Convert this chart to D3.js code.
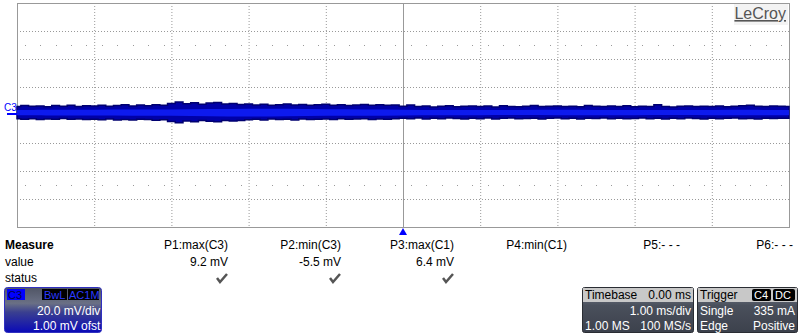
<!DOCTYPE html>
<html lang="en">
<head>
    <meta charset="UTF-8">
    <title>LeCroy C3</title>
    <script src="https://d3js.org/d3.v7.min.js"></script>
    <style>
        body { margin: 0; background: #fff; }
        text { font-family: "Liberation Sans", Arial, sans-serif; }
    </style>
</head>
<body>

    <svg width="800" height="334"></svg>

<script>

    // trace envelope of C3, mV, one value every 0.1 ms from -5 ms to +5 ms
    var upper = [6.0, 6.8, 6.2, 6.5, 5.9, 6.7, 6.3, 6.9, 6.1, 6.6,
                 6.4, 7.0, 6.2, 6.8, 7.3, 6.5, 7.1, 6.6, 7.4, 7.0,
                 8.2, 9.2, 8.0, 8.8, 7.6, 8.5, 9.0, 7.9, 8.3, 7.5,
                 7.8, 7.2, 7.6, 7.0, 7.4, 7.9, 7.1, 7.5, 7.0, 7.3,
                 7.6, 7.0, 7.4, 6.8, 7.2, 7.5, 6.9, 7.3, 7.0, 7.1,
                 6.2, 7.2, 6.0, 6.4, 5.8, 6.3, 6.6, 5.9, 6.2, 6.5,
                 6.0, 6.4, 5.8, 6.6, 6.1, 5.9, 6.3, 6.7, 6.0, 6.2,
                 6.5, 6.1, 6.3, 5.9, 6.8, 6.2, 6.0, 6.4, 6.1, 6.6,
                 5.9, 6.3, 6.0, 7.3, 6.1, 5.8, 6.2, 6.5, 6.0, 6.3,
                 6.1, 6.4, 5.9, 6.2, 6.6, 7.0, 6.3, 6.0, 6.5, 6.2, 6.1];
    var lower = [-2.6, -3.0, -2.7, -3.2, -2.8, -3.1, -2.5, -3.0, -2.9, -3.3,
                 -3.0, -3.4, -2.9, -3.5, -3.2, -3.6, -3.0, -3.3, -3.8, -3.4,
                 -4.6, -5.5, -4.2, -4.9, -4.0, -4.5, -4.8, -3.9, -4.3, -4.0,
                 -3.4, -3.0, -3.6, -2.9, -3.3, -3.1, -3.5, -2.8, -3.2, -3.0,
                 -2.8, -3.2, -2.7, -3.1, -2.9, -2.6, -3.3, -2.8, -3.0, -2.7,
                 -2.3, -2.7, -2.2, -2.9, -2.4, -2.6, -2.1, -2.5, -2.8, -2.3,
                 -2.6, -2.2, -2.8, -2.4, -2.1, -2.7, -2.5, -2.3, -2.9, -2.4,
                 -2.2, -2.6, -2.4, -2.8, -2.3, -2.5, -2.1, -2.7, -2.4, -2.6,
                 -2.5, -2.2, -2.7, -2.4, -2.9, -2.3, -2.6, -2.2, -2.5, -2.8,
                 -2.3, -2.7, -2.4, -2.2, -2.6, -2.5, -2.8, -2.3, -2.5, -2.4, -2.4];
    // bright core of the trace, one value every 0.5 ms
    var coreHi = [3.6, 3.9, 3.7, 4.0, 3.8, 4.2, 4.6, 4.4, 4.1, 4.0, 3.8,
                  3.6, 3.7, 3.5, 3.8, 3.6, 3.7, 3.5, 3.6, 3.7, 3.6];
    var coreLo = [-0.2, -0.4, -0.3, -0.5, -0.4, -0.9, -1.2, -0.8, -0.6, -0.5, -0.3,
                  -0.1, -0.2, 0.0, -0.2, -0.1, -0.2, 0.0, -0.1, -0.2, -0.1];

    var measNames = ['P1:max(C3)', 'P2:min(C3)', 'P3:max(C1)', 'P4:min(C1)', 'P5:- - -', 'P6:- - -'];
    var measValues = ['9.2 mV', '-5.5 mV', '6.4 mV', '', '', ''];
    var measStatus = [true, true, true, false, false, false];

    var svg = d3.select('svg');

    // 10 div x 1 ms, 8 div x 20 mV
    var x = d3.scaleLinear().domain([-5, 5]).range([17, 789]);
    var y = d3.scaleLinear().domain([-80, 80]).range([227, 3]);

    var grid = svg.append('g');
    // dotted major grid
    grid.selectAll('.vx').data(d3.range(-4, 5).filter(function (d) { return d !== 0; }))
        .enter().append('line')
        .attr('x1', function (d) { return x(d) + 0.5; }).attr('x2', function (d) { return x(d) + 0.5; })
        .attr('y1', 3).attr('y2', 227)
        .attr('stroke', '#999').attr('stroke-dasharray', '1,2');
    grid.selectAll('.hy').data(d3.range(-60, 61, 20).filter(function (d) { return d !== 0; }))
        .enter().append('line')
        .attr('y1', function (d) { return Math.round(y(d)) + 0.5; }).attr('y2', function (d) { return Math.round(y(d)) + 0.5; })
        .attr('x1', 17).attr('x2', 789)
        .attr('stroke', '#999').attr('stroke-dasharray', '1,2');
    // minor dots
    var dotX = d3.range(-49, 50, 2).map(function (d) { return d / 10; });
    [50, -50].forEach(function (mv) {
        grid.selectAll(null).data(dotX).enter().append('rect')
            .attr('x', function (d) { return Math.round(x(d)); })
            .attr('y', Math.round(y(mv)))
            .attr('width', 1).attr('height', 1)
            .attr('fill', '#999');
    });
    // center axes and border
    grid.append('line').attr('x1', Math.round(x(0)) + 0.5).attr('x2', Math.round(x(0)) + 0.5)
        .attr('y1', 3).attr('y2', 227).attr('stroke', '#999');
    grid.append('line').attr('y1', y(0) + 0.5).attr('y2', y(0) + 0.5)
        .attr('x1', 17).attr('x2', 789).attr('stroke', '#999');
    grid.append('rect').attr('x', 17.5).attr('y', 3.5).attr('width', 772).attr('height', 224)
        .attr('fill', 'none').attr('stroke', '#999');

    // LeCroy logo
    svg.append('rect').attr('x', 734).attr('y', 4).attr('width', 54).attr('height', 21).attr('fill', '#f3f3f3');
    svg.append('text').attr('x', 786).attr('y', 19).attr('text-anchor', 'end')
        .attr('font-size', 16).attr('fill', '#555').attr('text-decoration', 'underline')
        .text('LeCroy');

    // trace
    var tOuter = upper.map(function (d, i) { return -5 + i * 0.1; });
    var tCore = coreHi.map(function (d, i) { return -5 + i * 0.5; });
    var outer = d3.area().curve(d3.curveStep)
        .x(function (d, i) { return x(tOuter[i]); })
        .y0(function (d, i) { return y(lower[i]); })
        .y1(function (d, i) { return y(upper[i]); });
    var core = d3.area().curve(d3.curveBasis)
        .x(function (d, i) { return x(tCore[i]); })
        .y0(function (d, i) { return y(coreLo[i]); })
        .y1(function (d, i) { return y(coreHi[i]); });
    svg.append('path').datum(upper).attr('d', outer)
        .attr('fill', '#0000a8').attr('stroke', '#000070').attr('stroke-width', 1.5);
    svg.append('path').datum(coreHi).attr('d', core)
        .attr('fill', '#1020ff').attr('opacity', 0.8);

    // channel marker
    svg.append('text').attr('x', 4).attr('y', 111).attr('font-size', 10).attr('fill', '#00f').text('C3');
    svg.append('rect').attr('x', 7).attr('y', y(0) - 2).attr('width', 10).attr('height', 2).attr('fill', '#00f');
    // trigger marker
    svg.append('path')
        .attr('d', 'M' + x(0) + ',228 L' + (x(0) + 4) + ',235 L' + (x(0) - 4) + ',235 Z')
        .attr('fill', '#00f');

    // measure table
    var colX = d3.scalePoint().domain(d3.range(6)).range([228, 793]);
    svg.append('text').attr('x', 5).attr('y', 249).attr('font-size', 12).attr('font-weight', 'bold').text('Measure');
    svg.append('text').attr('x', 5).attr('y', 266).attr('font-size', 12).text('value');
    svg.append('text').attr('x', 5).attr('y', 282).attr('font-size', 12).text('status');
    var cols = svg.selectAll('.mc').data(d3.range(6)).enter().append('g');
    cols.append('text').attr('x', function (i) { return colX(i); }).attr('y', 249)
        .attr('font-size', 12).attr('text-anchor', 'end').text(function (i) { return measNames[i]; });
    cols.append('text').attr('x', function (i) { return colX(i); }).attr('y', 266)
        .attr('font-size', 12).attr('text-anchor', 'end').text(function (i) { return measValues[i]; });
    cols.filter(function (i) { return measStatus[i]; }).append('path')
        .attr('d', function (i) {
            var cx = colX(i) - 6;
            return 'M' + (cx - 5) + ',278 L' + (cx - 2) + ',282 L' + (cx + 5) + ',274';
        })
        .attr('fill', 'none').attr('stroke', '#555').attr('stroke-width', 2.5);

    var defs = svg.append('defs');
    var gc = defs.append('linearGradient').attr('id', 'chg').attr('x1', 0).attr('y1', 0).attr('x2', 0).attr('y2', 1);
    gc.append('stop').attr('offset', '0').attr('stop-color', '#505565');
    gc.append('stop').attr('offset', '0.35').attr('stop-color', '#6a7085');
    gc.append('stop').attr('offset', '0.55').attr('stop-color', '#3a3f90');
    gc.append('stop').attr('offset', '1').attr('stop-color', '#0a0ab8');
    var gt = defs.append('linearGradient').attr('id', 'tbg').attr('x1', 0).attr('y1', 0).attr('x2', 0).attr('y2', 1);
    gt.append('stop').attr('offset', '0').attr('stop-color', '#7d8494');
    gt.append('stop').attr('offset', '0.4').attr('stop-color', '#4a505c');
    gt.append('stop').attr('offset', '1').attr('stop-color', '#3c414c');

    // channel descriptor
    var ch = svg.append('g');
    ch.append('rect').attr('x', 4.5).attr('y', 287.5).attr('width', 97).attr('height', 45).attr('rx', 3)
        .attr('fill', 'url(#chg)').attr('stroke', '#3030c0');
    ch.append('rect').attr('x', 7).attr('y', 289).attr('width', 18).attr('height', 11).attr('fill', '#0000ff');
    ch.append('text').attr('x', 8).attr('y', 299).attr('font-size', 11).attr('fill', '#000050').text('C3');
    ch.append('rect').attr('x', 42).attr('y', 289).attr('width', 25).attr('height', 11).attr('fill', '#000');
    ch.append('text').attr('x', 44).attr('y', 299).attr('font-size', 11).attr('fill', '#2a3aff').text('BwL');
    ch.append('rect').attr('x', 68).attr('y', 289).attr('width', 31).attr('height', 11).attr('fill', '#000');
    ch.append('text').attr('x', 69).attr('y', 299).attr('font-size', 11).attr('fill', '#2a3aff').text('AC1M');
    ch.append('text').attr('x', 37).attr('y', 315).attr('font-size', 12).attr('fill', '#fff').text('20.0 mV/div');
    ch.append('text').attr('x', 33).attr('y', 330).attr('font-size', 12).attr('fill', '#fff').text('1.00 mV ofst');

    // timebase and trigger
    function infoBox(x0, w, title, rows) {
        var b = svg.append('g');
        b.append('rect').attr('x', x0 + 0.5).attr('y', 287.5).attr('width', w).attr('height', 45).attr('rx', 2)
            .attr('fill', 'url(#tbg)').attr('stroke', '#2a2d33');
        b.append('rect').attr('x', x0 + 1).attr('y', 288).attr('width', w - 1).attr('height', 14).attr('fill', '#c8c8c8');
        b.append('text').attr('x', x0 + 3).attr('y', 299).attr('font-size', 12).attr('fill', '#000').text(title);
        rows.forEach(function (r) {
            b.append('text').attr('x', r[0]).attr('y', r[1]).attr('font-size', 12)
                .attr('text-anchor', r[3] || 'start').attr('fill', r[4] || '#fff').text(r[2]);
        });
        return b;
    }
    infoBox(582, 111, 'Timebase', [
        [691, 299, '0.00 ms', 'end', '#000'],
        [691, 315, '1.00 ms/div', 'end'],
        [585, 330, '1.00 MS'],
        [691, 330, '100 MS/s', 'end']
    ]);
    var trg = infoBox(697, 100, 'Trigger', [
        [700, 315, 'Single'],
        [795, 315, '335 mA', 'end'],
        [700, 330, 'Edge'],
        [795, 330, 'Positive', 'end']
    ]);
    trg.append('rect').attr('x', 752).attr('y', 289).attr('width', 19).attr('height', 12).attr('rx', 2).attr('fill', '#000');
    trg.append('text').attr('x', 754).attr('y', 299).attr('font-size', 11).attr('fill', '#fff').text('C4');
    trg.append('rect').attr('x', 773).attr('y', 289).attr('width', 22).attr('height', 12).attr('rx', 2).attr('fill', '#000');
    trg.append('text').attr('x', 775).attr('y', 299).attr('font-size', 11).attr('fill', '#fff').text('DC');

</script>
</body>
</html>
